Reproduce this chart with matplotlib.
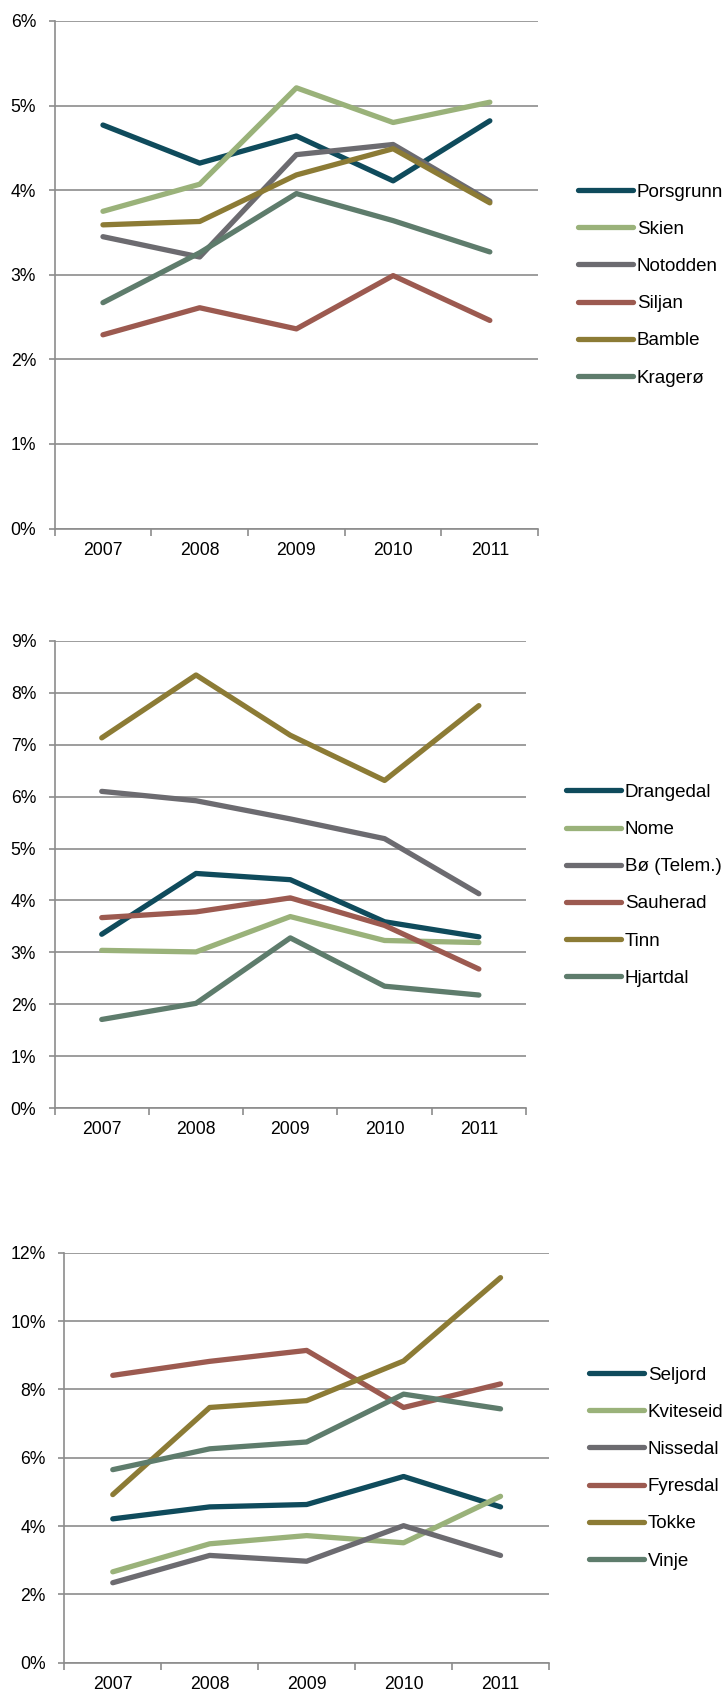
import matplotlib
matplotlib.use("Agg")
import matplotlib.pyplot as plt
from matplotlib.ticker import FixedLocator, FuncFormatter

plt.rcParams['font.family'] = ['Liberation Sans', 'DejaVu Sans']

years = ["2007", "2008", "2009", "2010", "2011"]

# Chart 1 (%)
names1 = ["Porsgrunn", "Skien", "Notodden", "Siljan", "Bamble", "Kragerø"]
porsgrunn = [4.77, 4.32, 4.64, 4.11, 4.82]
skien = [3.75, 4.07, 5.21, 4.80, 5.04]
notodden = [3.45, 3.21, 4.42, 4.54, 3.87]
siljan = [2.29, 2.61, 2.36, 2.99, 2.46]
bamble = [3.59, 3.63, 4.18, 4.49, 3.85]
kragero = [2.67, 3.26, 3.96, 3.64, 3.27]

# Chart 2 (%)
names2 = ["Drangedal", "Nome", "Bø (Telem.)", "Sauherad", "Tinn", "Hjartdal"]
drangedal = [3.35, 4.52, 4.40, 3.59, 3.30]
nome = [3.04, 3.01, 3.69, 3.23, 3.19]
bo = [6.10, 5.92, 5.57, 5.19, 4.13]
sauherad = [3.67, 3.78, 4.05, 3.52, 2.68]
tinn = [7.13, 8.34, 7.18, 6.31, 7.75]
hjartdal = [1.71, 2.02, 3.28, 2.35, 2.18]

# Chart 3 (%)
names3 = ["Seljord", "Kviteseid", "Nissedal", "Fyresdal", "Tokke", "Vinje"]
seljord = [4.21, 4.56, 4.63, 5.45, 4.56]
kviteseid = [2.66, 3.48, 3.72, 3.51, 4.87]
nissedal = [2.34, 3.14, 2.97, 4.01, 3.14]
fyresdal = [8.41, 8.82, 9.14, 7.47, 8.16]
tokke = [4.92, 7.47, 7.67, 8.83, 11.27]
vinje = [5.65, 6.26, 6.46, 7.86, 7.43]

colors = ["#0F4B5C", "#9AB27A", "#6C6B70", "#9C5A50", "#8C7B35", "#5E7C6C"]
grid_c = "#8C8C8C"
FS_TICK = 12.7
FS_LEG = 13.5

W, H = 724, 1695
fig = plt.figure(figsize=(W / 100, H / 100), dpi=100)


def make_ax(rect_px, series, names, ymax, ystep, leg_center_px):
    l, t, r, b = rect_px
    ax = fig.add_axes([l / W, 1 - b / H, (r - l) / W, (b - t) / H])
    x = list(range(len(years)))
    for vals, nm, c in zip(series, names, colors):
        ax.plot(x, vals, color=c, lw=3.8, label=nm, solid_capstyle='round',
                solid_joinstyle='round')
    ax.set_xlim(-0.5, len(years) - 0.5)
    ax.set_ylim(0, ymax)
    yt = [i * ystep for i in range(int(round(ymax / ystep)) + 1)]
    ax.set_yticks(yt)
    ax.yaxis.set_major_formatter(FuncFormatter(lambda v, p: f"{v:.0f}%"))
    ax.set_xticks(x)
    ax.set_xticklabels(years)
    ax.xaxis.set_minor_locator(FixedLocator([i - 0.5 for i in range(len(years) + 1)]))
    ax.tick_params(axis='x', which='major', length=0, pad=9.5, labelsize=FS_TICK, colors='black')
    ax.tick_params(axis='x', which='minor', length=5, width=1.2, color=grid_c, direction='out')
    ax.tick_params(axis='y', which='major', length=4.3, width=1.2, color=grid_c, pad=9,
                   labelsize=FS_TICK, labelcolor='black')
    ax.grid(axis='y', color=grid_c, lw=1.2)
    ax.set_axisbelow(True)
    for s in ['top', 'right']:
        ax.spines[s].set_visible(False)
    for s in ['left', 'bottom']:
        ax.spines[s].set_color(grid_c)
        ax.spines[s].set_linewidth(1.2)
    lx, ly = leg_center_px
    anchor = ((lx - l) / (r - l), (b - ly) / (b - t))
    leg = ax.legend(loc='center left', bbox_to_anchor=anchor, frameon=False,
                    fontsize=FS_LEG, handlelength=2.95, handletextpad=0.18,
                    labelspacing=1.07, borderpad=0, borderaxespad=0)
    for h in leg.get_lines():
        h.set_solid_capstyle('round')
    return ax


make_ax((54.6, 21, 538.2, 528.5), [porsgrunn, skien, notodden, siljan, bamble, kragero],
        names1, 6, 1, (578, 285))
make_ax((54.6, 640.7, 526, 1108.3), [drangedal, nome, bo, sauherad, tinn, hjartdal],
        names2, 9, 1, (566, 885.3))
make_ax((64.3, 1252.7, 549, 1662.7), [seljord, kviteseid, nissedal, fyresdal, tokke, vinje],
        names3, 12, 2, (589, 1468))

fig.savefig("out.png", dpi=100, facecolor='white')
